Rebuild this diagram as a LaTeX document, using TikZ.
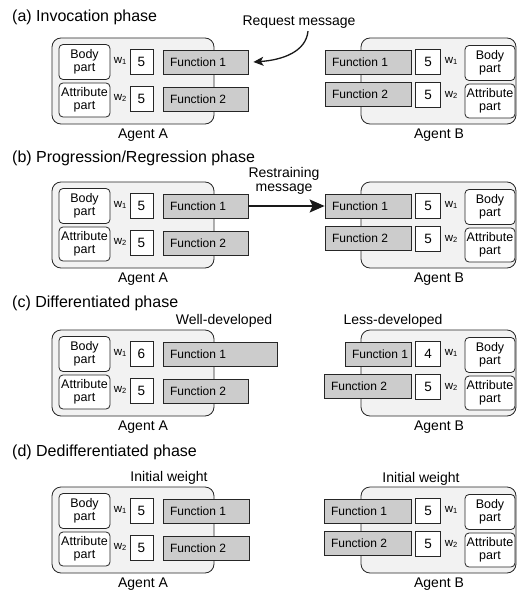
\documentclass[tikz,border=0pt]{standalone}
\usepackage{fontspec}
\setmainfont{Liberation Sans}
\usetikzlibrary{arrows.meta}
\newcommand\wsub[1]{w\raisebox{-0.5pt}{\fontsize{7.5}{8}\selectfont #1}}
\newcommand\ftext[2]{\makebox[#1pt][l]{\hspace{7pt}#2}}
\tikzset{
  x=1pt, y=-1pt,
  agentbox/.style={draw=black!85, line width=0.8pt, fill=black!5, rounded corners=9pt, inner sep=0pt},
  partbox/.style={draw=black!85, line width=0.8pt, fill=white, rounded corners=4pt, minimum width=51pt, minimum height=35pt, inner sep=0pt, align=center, font=\fontsize{12.5}{13}\selectfont},
  wbox/.style={draw=black!85, line width=0.8pt, fill=white, minimum height=25pt, inner sep=0pt, font=\fontsize{13.5}{14}\selectfont},
  funcbox/.style={draw=black!85, line width=0.8pt, fill=black!20, minimum height=24pt, inner sep=0pt, font=\fontsize{12}{13}\selectfont},
  wlab/.style={inner sep=0pt, font=\fontsize{11.5}{12}\selectfont},
  alab/.style={inner sep=0pt, anchor=base, font=\fontsize{14}{15}\selectfont},
  ptitle/.style={inner sep=0pt, anchor=base west, font=\fontsize{16}{17}\selectfont},
  note/.style={inner sep=0pt, font=\fontsize{14}{14}\selectfont, align=center},
  msgarrow/.style={line width=1.3pt, draw=black!90},
}
% #1 prefix, #2 top, #3 #4 values, #5 #6 widths of functions
\newcommand\agentA[6]{%
  \node[agentbox, minimum width=162pt, minimum height=86pt] (#1c) at (133,#2+43) {};
  \node[partbox] (#1b) at (84.5,#2+24) {Body\\part};
  \node[partbox, minimum height=34pt] (#1t) at (84.5,#2+62) {Attribute\\part};
  \node[wlab] (#1w1) at (120,#2+23) {\wsub{1}};
  \node[wlab] (#1w2) at (120,#2+60) {\wsub{2}};
  \node[wbox, minimum width=23pt] (#1v1) at (141.5,#2+24) {#3};
  \node[wbox, minimum width=23pt] (#1v2) at (141.5,#2+61) {#4};
  \node[funcbox] (#1f1) at ({163+#5/2},#2+24) {\ftext{#5}{Function 1}};
  \node[funcbox] (#1f2) at ({163+#6/2},#2+61) {\ftext{#6}{Function 2}};
  \node[alab] (#1l) at (143,#2+100) {Agent A};
}
\newcommand\agentB[6]{%
  \node[agentbox, minimum width=155pt, minimum height=86pt] (#1c) at (438.5,#2+43) {};
  \node[funcbox] (#1f1) at ({411-#5/2},#2+24) {\ftext{#5}{Function 1}};
  \node[funcbox] (#1f2) at ({411-#6/2},#2+56) {\ftext{#6}{Function 2}};
  \node[wbox, minimum width=25pt] (#1v1) at (428,#2+24) {#3};
  \node[wbox, minimum width=25pt] (#1v2) at (428,#2+57) {#4};
  \node[wlab] (#1w1) at (451,#2+23) {\wsub{1}};
  \node[wlab] (#1w2) at (451,#2+57) {\wsub{2}};
  \node[partbox, minimum width=50pt] (#1b) at (490,#2+25) {Body\\part};
  \node[partbox, minimum width=50pt, minimum height=34pt] (#1t) at (490,#2+63) {Attribute\\part};
  \node[alab] (#1l) at (439,#2+100) {Agent B};
}
\begin{document}
\begin{tikzpicture}
\useasboundingbox[fill=white] (0,0) rectangle (518,594);

% (a)
\node[ptitle] (ta) at (12,22) {(a) Invocation phase};
\agentA{aA}{38}{5}{5}{85}{85}
\agentB{aB}{38}{5}{5}{86}{86}
\node[note, anchor=base] (req) at (299,26) {Request message};
\coordinate (reqs) at ([xshift=9pt,yshift=-2pt]req.south);
\draw[msgarrow, -{Stealth[length=10pt,width=9pt,inset=2.5pt]}] (reqs) .. controls (306,52) and (282,60) .. ([xshift=5pt]aAf1.east);

% (b)
\node[ptitle] (tb) at (12,162) {(b) Progression/Regression phase};
\agentA{bA}{182}{5}{5}{85}{85}
\agentB{bB}{182}{5}{5}{86}{86}
\node[note] (res) at (284,181) {Restraining\\message};
\draw[msgarrow, -{Stealth[length=15pt,width=13pt,inset=3pt]}] (bAf1.east) -- (bBf1.west);

% (c)
\node[ptitle] (tc) at (12,307) {(c) Differentiated phase};
\agentA{cA}{330}{6}{5}{114}{85}
\agentB{cB}{330}{4}{5}{66}{87}
\node[note, anchor=base] (well) at (224,324) {Well-developed};
\node[note, anchor=base] (less) at (393,324) {Less-developed};

% (d)
\node[ptitle] (td) at (12,456) {(d) Dedifferentiated phase};
\agentA{dA}{487}{5}{5}{86}{86}
\agentB{dB}{487}{5}{5}{87}{87}
\node[note, anchor=base] (iwa) at (169,481) {Initial weight};
\node[note, anchor=base] (iwb) at (421,482) {Initial weight};
\end{tikzpicture}
\end{document}
